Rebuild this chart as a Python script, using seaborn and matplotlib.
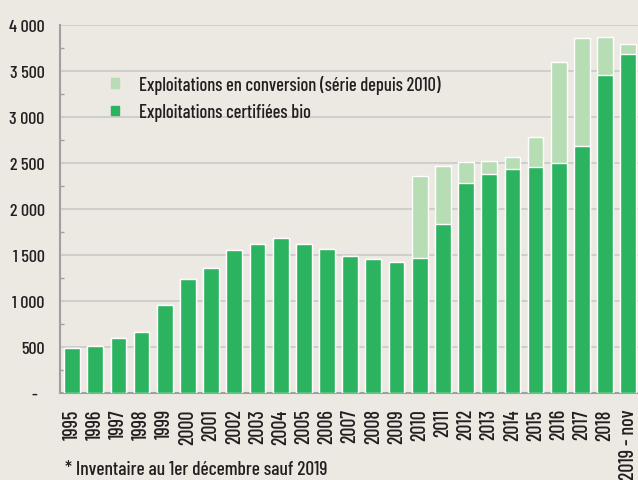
import pandas as pd
import matplotlib.pyplot as plt
import seaborn as sns
from matplotlib.patches import Patch
from matplotlib.ticker import MultipleLocator, FuncFormatter

# data
years = ['1995', '1996', '1997', '1998', '1999', '2000', '2001', '2002', '2003',
         '2004', '2005', '2006', '2007', '2008', '2009', '2010', '2011', '2012',
         '2013', '2014', '2015', '2016', '2017', '2018', '2019 - nov']
certifiees = [492, 511, 594, 660, 957, 1243, 1362, 1551, 1616, 1686, 1620, 1562,
              1489, 1457, 1427, 1467, 1837, 2279, 2384, 2435, 2453, 2496, 2688,
              3457, 3688]
conversion = [0, 0, 0, 0, 0, 0, 0, 0, 0, 0, 0, 0, 0, 0, 0,
              892, 634, 235, 138, 130, 326, 1102, 1167, 416, 102]

label_conv = 'Exploitations en conversion (série depuis 2010)'
label_bio = 'Exploitations certifiées bio'
footnote = '* Inventaire au 1er décembre sauf 2019'

df = pd.DataFrame({'Annee': years, 'Bio': certifiees, 'Conversion': conversion})
df['Total'] = df['Bio'] + df['Conversion']

bg = '#ECE9E3'
dark = '#2BB35F'
light = '#B7DDB5'
txt = '#231F20'
fs = 13

sns.set_style('white')
plt.rcParams['font.family'] = ['Barlow Condensed', 'DejaVu Sans']
plt.rcParams['font.weight'] = 'medium'

fig = plt.figure(figsize=(6.38, 4.81), dpi=100, facecolor=bg)
ax = fig.add_axes([60 / 638, 1 - 394 / 481, 1 - 60 / 638, (394 - 26) / 481])
ax.set_facecolor(bg)

# stacked bars: total (light) behind, certified (dark) in front
sns.barplot(x='Annee', y='Total', data=df, color=light, width=0.68,
            saturation=1, ax=ax, zorder=3)
sns.barplot(x='Annee', y='Bio', data=df, color=dark, width=0.68,
            saturation=1, ax=ax, zorder=3)

ax.set_xlim(-0.52, 24.42)
ax.set_ylim(0, 4000)
ax.yaxis.set_major_locator(MultipleLocator(500))
ax.yaxis.set_minor_locator(MultipleLocator(250))
ax.yaxis.set_major_formatter(FuncFormatter(
    lambda v, p: '-  ' if v == 0 else f'{int(v):,}'.replace(',', ' ')))
ax.grid(axis='y', which='major', color='#C9C9C9', linewidth=1.2, zorder=0)

ax.tick_params(axis='y', which='major', direction='out', length=4, width=1.2,
               color='#A0A0A0', pad=7, labelsize=fs, labelcolor=txt)
ax.tick_params(axis='y', which='minor', direction='in', length=3, width=1,
               color='#A0A0A0', left=True)
ax.tick_params(axis='x', length=0, pad=11, labelsize=14.5, labelcolor=txt,
               rotation=90)

for s in ['top', 'right']:
    ax.spines[s].set_visible(False)
for s in ['left', 'bottom']:
    ax.spines[s].set_color('#A0A0A0')
    ax.spines[s].set_linewidth(1.5)

ax.set_xlabel('')
ax.set_ylabel('')

handles = [Patch(color=light, label=label_conv), Patch(color=dark, label=label_bio)]
leg = ax.legend(handles=handles, loc='upper left', bbox_to_anchor=(0.06, 0.91),
                frameon=False, fontsize=13.3, handlelength=0.4, handleheight=0.4,
                handletextpad=1.1, labelspacing=0.5)
for t in leg.get_texts():
    t.set_color(txt)

fig.text(65 / 638, 1 - 470 / 481, footnote, fontsize=14, color=txt, va='center')

plt.savefig('out.png', dpi=100, facecolor=bg)
